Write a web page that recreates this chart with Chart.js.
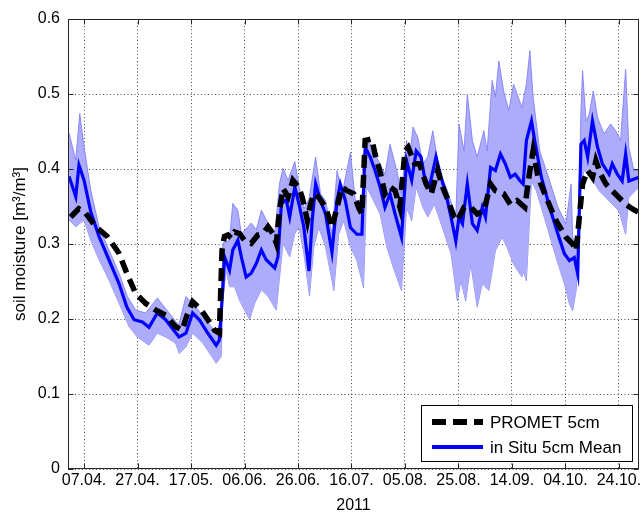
<!DOCTYPE html>
<html><head><meta charset="utf-8">
<script src="https://cdn.jsdelivr.net/npm/chart.js@4/dist/chart.umd.min.js"></script>
<style>html,body{margin:0;padding:0;background:#fff;}#wrap{width:641px;height:515px;}</style>
</head><body><div id="wrap"><canvas id="c" width="641" height="515"></canvas></div>
<script>
// x values: days since 01.04.2011
const tickDays = [6,26,46,66,86,106,126,146,166,186,206];
const tickLabels = ['07.04.','27.04.','17.05.','06.06.','26.06.','16.07.','05.08.','25.08.','14.09.','04.10.','24.10.'];
const yearLabel = '2011';

const prometDays = [1,4,6.6,10.4,14.7,19,22,25.3,29,32.7,36.5,40.2,42.7,44.5,46.6,49.8,52.3,54.8,56.6,57.6,58.5,59.8,61,62.3,64.1,66,68.5,71,72.9,74.8,76.6,77.9,79.1,80.4,82.3,84.1,86.2,87.6,89.5,90.7,91.9,93.8,96.3,98.7,100.6,102.5,104.3,106.8,108.6,109.9,111.1,113.6,114.8,116.9,118.5,120.4,122.3,124.1,126,127.2,129.6,131.4,133.9,135.8,138.2,140.1,141.9,144.4,145.6,148.1,150.6,153,155.5,158,159.8,162.9,165.4,167.9,170.8,172.7,173.9,175.8,178.8,182.5,186.2,188.7,190,191.2,192.4,194.3,196.1,197.4,199.2,201.1,203.5,206,208.5,210.9,213.5];
const prometVals = [0.336,0.347,0.341,0.323,0.31,0.288,0.261,0.234,0.221,0.212,0.205,0.19,0.185,0.205,0.223,0.212,0.199,0.185,0.181,0.292,0.31,0.312,0.308,0.316,0.314,0.305,0.301,0.312,0.314,0.323,0.314,0.301,0.345,0.374,0.363,0.385,0.376,0.362,0.331,0.353,0.367,0.362,0.349,0.322,0.349,0.376,0.371,0.367,0.349,0.34,0.438,0.44,0.42,0.393,0.367,0.376,0.371,0.349,0.424,0.429,0.407,0.407,0.38,0.367,0.398,0.376,0.36,0.336,0.331,0.349,0.349,0.34,0.344,0.38,0.371,0.367,0.353,0.358,0.349,0.398,0.424,0.389,0.362,0.331,0.309,0.3,0.291,0.336,0.38,0.398,0.389,0.411,0.393,0.38,0.371,0.362,0.353,0.347,0.342];

const meanDays = [0.4,2.9,4.1,6,8.5,11.6,15.3,19,22,24.7,27.8,30.3,33.4,36.5,41.5,44.1,46.6,49.1,52.3,55.4,56.6,57.9,58.5,60.4,61.6,63.5,64.8,66.6,68.5,70.4,72.3,74.1,77.3,78.5,79.8,81.6,82.9,84.8,86.4,88.2,90.1,91.3,92.6,94.4,96.3,98.7,100.6,101.8,103.7,105.6,108,109.9,111.1,113,114.8,116.7,118.5,120.4,122.3,124.7,126.6,128.5,130.2,132,133.3,135.1,137.6,139.5,141.3,143.2,145,146.2,147.5,149.3,151.2,153,154.9,156.1,158,159.8,161.7,163.5,165.4,167.2,169.1,170.2,171.4,173.3,174.5,177,180.1,183.2,185.6,187.5,189.3,190.6,191.8,193,194.3,196.1,198,199.8,202.3,203.5,205.4,207.2,208.5,209.7,213.5];
const meanVals = [0.39,0.363,0.405,0.385,0.343,0.31,0.279,0.248,0.216,0.199,0.196,0.189,0.208,0.199,0.176,0.181,0.208,0.199,0.181,0.165,0.172,0.243,0.283,0.265,0.292,0.305,0.283,0.256,0.261,0.274,0.292,0.279,0.268,0.283,0.354,0.359,0.336,0.376,0.353,0.322,0.264,0.331,0.38,0.358,0.34,0.289,0.358,0.38,0.358,0.322,0.313,0.313,0.429,0.416,0.398,0.376,0.349,0.367,0.34,0.309,0.411,0.385,0.424,0.416,0.389,0.376,0.416,0.389,0.367,0.336,0.304,0.336,0.327,0.38,0.327,0.318,0.349,0.336,0.402,0.398,0.42,0.407,0.389,0.393,0.384,0.38,0.438,0.464,0.438,0.389,0.349,0.313,0.287,0.278,0.282,0.26,0.433,0.438,0.416,0.464,0.429,0.407,0.393,0.407,0.393,0.384,0.42,0.384,0.389];

const upperDays = [0.4,2.9,4.4,6,8.5,11.6,15.3,19.1,22.2,25.3,29,33.4,36.5,41.4,44.1,46.6,51.6,55.4,57.3,57.9,60.4,61.6,63.5,64.8,67.3,68.5,70.4,72.3,74.8,77.3,79.1,80.4,82.3,84.8,86.4,88.2,90.1,92.6,94.4,96.3,98.7,100.6,102.5,105.6,107.4,109.9,111.1,113,116.1,118.5,120.4,122.9,124.7,126.6,127.6,129,130.8,132.7,134.5,136.4,138.8,141.9,145,146.2,148.1,149.3,151.2,153,155.5,156.7,158.6,159.8,161.1,162.9,164.8,166.6,169.7,171.4,172.7,173.9,176.4,180.1,183.2,186.2,188.1,188.7,190.6,191.8,192.4,193.7,194.9,196.4,198,200.4,202.9,204.8,206.6,208.5,209.7,211.6,213.5];
const upperVals = [0.448,0.412,0.474,0.43,0.372,0.323,0.292,0.261,0.23,0.212,0.208,0.228,0.214,0.192,0.23,0.221,0.199,0.181,0.2,0.301,0.305,0.354,0.345,0.314,0.323,0.328,0.319,0.345,0.328,0.314,0.381,0.401,0.385,0.41,0.376,0.347,0.36,0.416,0.367,0.358,0.313,0.398,0.367,0.422,0.358,0.358,0.44,0.433,0.411,0.393,0.433,0.398,0.367,0.438,0.411,0.456,0.442,0.407,0.416,0.451,0.398,0.371,0.336,0.46,0.424,0.5,0.438,0.416,0.451,0.424,0.518,0.496,0.544,0.504,0.478,0.513,0.482,0.513,0.558,0.496,0.424,0.384,0.349,0.327,0.38,0.309,0.296,0.478,0.531,0.464,0.473,0.504,0.469,0.447,0.46,0.451,0.438,0.533,0.429,0.398,0.398];

const lowerDays = [0.4,2.9,6,8.5,11.6,15.3,19.1,22.8,25.9,30.3,33.4,36.5,40.2,41.6,44.1,46.6,50.4,55.4,57.3,57.9,59.1,60.4,62.3,64.1,67.9,69.8,72.3,74.8,77.9,79.1,80.4,82.9,84.8,86.4,88.2,90.3,91.9,93.8,96.3,99.4,101.2,103.1,105.6,108,110.5,111.7,114.2,116.7,119.2,121.6,124.7,126.6,128.5,130.2,132.7,134.5,137,139.5,143.2,145.6,146.9,148.7,150.6,153,154.9,157.4,159.8,162.3,164.1,166.6,169.7,170.2,171.4,173.3,175.1,178.8,182.5,185.6,187.5,188.7,190,191.6,193,195.5,198.6,201.1,203.5,206,208.5,209.7,213.5];
const lowerVals = [0.332,0.323,0.332,0.305,0.279,0.252,0.221,0.19,0.176,0.165,0.181,0.176,0.168,0.154,0.163,0.181,0.168,0.141,0.15,0.225,0.265,0.243,0.243,0.225,0.199,0.221,0.239,0.23,0.212,0.256,0.301,0.283,0.314,0.322,0.287,0.231,0.296,0.322,0.296,0.238,0.313,0.331,0.296,0.278,0.242,0.376,0.358,0.34,0.296,0.269,0.238,0.349,0.331,0.376,0.349,0.336,0.353,0.327,0.287,0.224,0.251,0.224,0.273,0.216,0.247,0.238,0.291,0.309,0.296,0.273,0.256,0.264,0.251,0.384,0.371,0.327,0.282,0.247,0.22,0.211,0.238,0.376,0.398,0.389,0.371,0.362,0.353,0.344,0.313,0.362,0.376];

const seriesNames = ['PROMET 5cm','in Situ 5cm Mean'];
const yTitle = 'soil moisture [m\u00B3/m\u00B3]';

const FONT = "'Liberation Sans', Arial, sans-serif";
Chart.defaults.font.family = FONT;
Chart.defaults.color = '#000';

const toXY = (xs, ys) => xs.map((x, i) => ({x: x, y: ys[i]}));
const FRAME = '#262626';
const BAND_EDGE = 'rgba(125,125,250,0.85)';

const framePlugin = {
  id: 'frame',
  afterDraw(chart) {
    const {ctx, chartArea: a, scales: {x, y}} = chart;
    const L = Math.round(a.left) + 0.5, R = Math.round(a.right) - 0.5;
    const T = Math.round(a.top) + 0.5, B = Math.round(a.bottom) - 0.5;
    ctx.save();
    ctx.strokeStyle = FRAME; ctx.lineWidth = 1; ctx.setLineDash([]);
    ctx.strokeRect(L, T, R - L, B - T);
    ctx.beginPath();
    y.ticks.forEach(t => {
      const p = Math.round(y.getPixelForValue(t.value)) + 0.5;
      ctx.moveTo(L, p); ctx.lineTo(L + 5, p);
      ctx.moveTo(R, p); ctx.lineTo(R - 5, p);
    });
    x.ticks.forEach(t => {
      const p = Math.round(x.getPixelForValue(t.value)) + 0.5;
      ctx.moveTo(p, B); ctx.lineTo(p, B - 5);
      ctx.moveTo(p, T); ctx.lineTo(p, T + 5);
    });
    ctx.stroke();
    // legend box
    const ds = chart.data.datasets;
    const bx = Math.round(a.right) - 218, by = Math.round(a.bottom) - 64, bw = 211, bh = 56;
    ctx.fillStyle = '#fff';
    ctx.fillRect(bx, by, bw, bh);
    ctx.strokeStyle = '#000';
    ctx.strokeRect(bx + 0.5, by + 0.5, bw, bh);
    const rows = [by + 17, by + 42];
    for (let i = 0; i < 2; i++) {
      ctx.beginPath();
      ctx.strokeStyle = ds[i].borderColor;
      ctx.lineWidth = i === 0 ? 6 : 4;
      ctx.setLineDash(i === 0 ? [14, 7] : []);
      ctx.moveTo(bx + 11, rows[i]); ctx.lineTo(bx + 62, rows[i]);
      ctx.stroke();
      ctx.setLineDash([]);
      ctx.fillStyle = '#000';
      ctx.font = '17px ' + FONT;
      ctx.textBaseline = 'middle';
      ctx.textAlign = 'left';
      ctx.fillText(ds[i].label, bx + 69, rows[i] + 1);
    }
    ctx.restore();
  }
};

new Chart(document.getElementById('c'), {
  type: 'line',
  data: {
    datasets: [
      {label: seriesNames[0], data: toXY(prometDays, prometVals), borderColor: '#000', borderWidth: 5.5,
       borderDash: [13, 7], borderCapStyle: 'butt', pointRadius: 0, fill: false, tension: 0},
      {label: seriesNames[1], data: toXY(meanDays, meanVals), borderColor: '#0000ff', borderWidth: 3.2,
       pointRadius: 0, fill: false, tension: 0},
      {label: 'max', data: toXY(upperDays, upperVals), borderColor: BAND_EDGE, borderWidth: 1,
       backgroundColor: 'rgb(172,172,250)', fill: '+1', pointRadius: 0, tension: 0},
      {label: 'min', data: toXY(lowerDays, lowerVals), borderColor: BAND_EDGE, borderWidth: 1,
       pointRadius: 0, fill: false, tension: 0}
    ]
  },
  options: {
    responsive: false, animation: false, devicePixelRatio: 1,
    layout: {padding: {left: 0, right: 2, top: 19, bottom: 0}},
    plugins: {legend: {display: false}, tooltip: {enabled: false}},
    scales: {
      x: {
        type: 'linear', min: 0, max: 213.5,
        afterBuildTicks: s => { s.ticks = tickDays.map(v => ({value: v})); },
        afterFit: s => { s.height = 46; s.paddingLeft = 0; s.paddingRight = 0; },
        ticks: {callback: (v, i) => tickLabels[i], autoSkip: false, maxRotation: 0, padding: 2,
                color: '#000', font: {size: 16}},
        grid: {color: 'rgba(0,0,0,0.7)', lineWidth: 1, drawTicks: false},
        border: {display: false, dash: [1, 2.5]},
        title: {display: true, text: yearLabel, color: '#000', font: {size: 16}, padding: {top: 0, bottom: 0}}
      },
      y: {
        min: 0, max: 0.6,
        afterFit: s => { s.width = 68; s.paddingTop = 0; s.paddingBottom = 0; },
        ticks: {stepSize: 0.1, padding: 8, color: '#000', font: {size: 16},
                callback: v => (Math.abs(v) < 1e-9 ? '0' : Number(v).toFixed(1))},
        grid: {color: 'rgba(0,0,0,0.7)', lineWidth: 1, drawTicks: false},
        border: {display: false, dash: [1, 2.5]},
        title: {display: true, text: yTitle, color: '#000', font: {size: 17}, padding: {top: 10, bottom: 0}}
      }
    }
  },
  plugins: [framePlugin]
});
</script>
</body></html>
